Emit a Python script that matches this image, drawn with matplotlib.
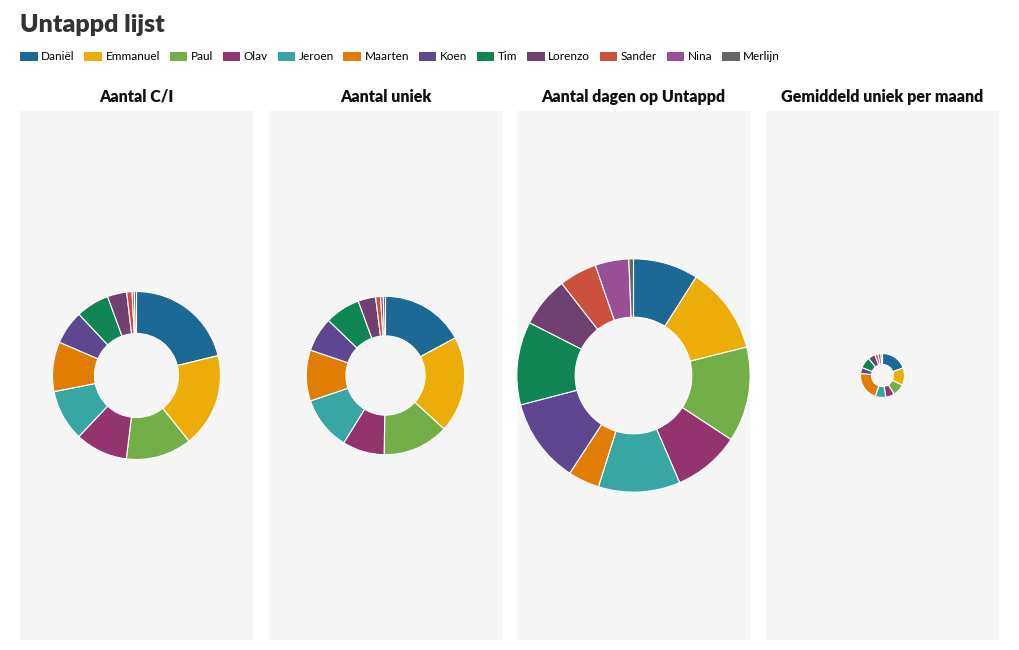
import numpy as np
import matplotlib
matplotlib.use("Agg")
import matplotlib.pyplot as plt
from matplotlib.patches import Patch

plt.rcParams['font.family'] = ['Lato', 'DejaVu Sans']

# Data
names = ['Daniël', 'Emmanuel', 'Paul', 'Olav', 'Jeroen', 'Maarten',
         'Koen', 'Tim', 'Lorenzo', 'Sander', 'Nina', 'Merlijn']
colors = ['#1d6996', '#edad08', '#73af48', '#94346e', '#38a6a5', '#e17c05',
          '#5f4690', '#0f8554', '#6f4070', '#cc503e', '#994e95', '#666666']

titles = ['Aantal C/I', 'Aantal uniek', 'Aantal dagen op Untappd',
          'Gemiddeld uniek per maand']
checkins = [2120, 1808, 1267, 1011, 989, 956, 650, 642, 372, 103, 42, 42]
uniek = [1525, 1748, 1201, 761, 976, 925, 625, 640, 319, 89, 49, 40]
dagen = [1742, 2326, 2541, 1790, 2187, 836, 2267, 2224, 1351, 1008, 900, 123]
uniek_per_maand = [133, 88, 61, 44, 53, 145, 30, 57, 36, 15, 15, 8]
series = [checkins, uniek, dagen, uniek_per_maand]

W, H = 1020, 650
fig = plt.figure(figsize=(W / 100, H / 100), dpi=100)

fig.text(20 / W, 1 - 25 / H, 'Untappd lijst', fontsize=18, fontweight='heavy',
         color='#333333', va='center', ha='left')

handles = [Patch(facecolor=c, edgecolor='none') for c in colors]
fig.legend(handles, names, loc='center left', bbox_to_anchor=(20 / W, 1 - 57 / H),
           ncol=len(names), frameon=False, fontsize=8.5, handlelength=1.5,
           handleheight=0.9, handletextpad=0.3, columnspacing=0.8,
           borderaxespad=0, borderpad=0)

# radius scale: sqrt of total
totals = [sum(s) for s in series]
k = 84 / np.sqrt(totals[0])

pw, ph = 233, 529
lefts = [20, 269, 517, 766]
for left, title, vals, tot in zip(lefts, titles, series, totals):
    ax = fig.add_axes([left / W, 10 / H, pw / W, ph / H])
    r = k * np.sqrt(tot)
    ax.pie(vals, colors=colors, radius=r, startangle=90, counterclock=False,
           frame=True,
           wedgeprops=dict(width=r * 0.5, edgecolor='white', linewidth=0.8))
    ax.set_facecolor('#f5f5f5')
    for s in ax.spines.values():
        s.set_visible(False)
    ax.set_xticks([])
    ax.set_yticks([])
    ax.set_xlim(-pw / 2, pw / 2)
    ax.set_ylim(-ph / 2, ph / 2)
    ax.set_aspect('equal')
    fig.text((left + pw / 2) / W, 1 - 97 / H, title, fontsize=11.5,
             fontweight='heavy', ha='center', va='center', color='#111111')

fig.savefig('out.png', dpi=100, facecolor='white')
